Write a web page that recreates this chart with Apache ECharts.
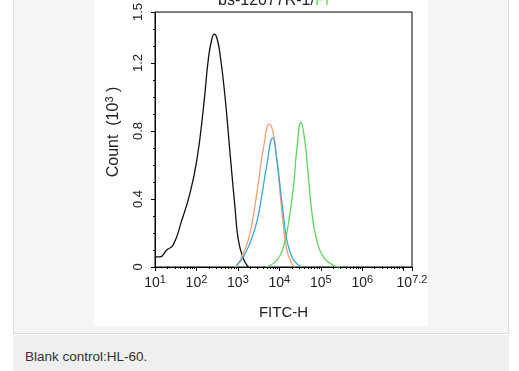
<!DOCTYPE html>
<html>
<head>
<meta charset="utf-8">
<script src="https://cdn.jsdelivr.net/npm/echarts@6/dist/echarts.min.js"></script>
<style>
html,body{margin:0;padding:0;background:#fff;width:519px;height:371px;overflow:hidden;font-family:"Liberation Sans",Arial,sans-serif;}
#panel{position:absolute;left:13px;top:-1px;width:494px;height:333px;background:#f4f5f5;border:1px solid #dcdddd;}
#img{position:absolute;left:94px;top:0;width:334px;height:326px;background:#fff;}
#cap{position:absolute;left:13px;top:335px;width:496px;height:36px;background:#eeefef;}
#capText{position:absolute;left:25px;top:349px;font-size:13.5px;color:#333;line-height:16px;}
#chart{position:absolute;left:0;top:0;width:519px;height:371px;}
</style>
</head>
<body>
<div id="panel"></div>
<div id="img"></div>
<div id="cap"></div>
<div id="capText">Blank control:HL-60.</div>
<div id="chart"></div>
<script>
// x values are log10(FITC-H), y values are Count (10^3)
var blackX = [1.00,1.12,1.28,1.44,1.64,1.84,2.01,2.17,2.29,2.37,2.43,2.49,2.57,2.69,2.81,2.93,3.01,3.13,3.25];
var blackY = [0.06,0.06,0.10,0.13,0.27,0.43,0.63,0.94,1.23,1.34,1.37,1.35,1.25,1.00,0.67,0.35,0.16,0.05,0.00];
var orangeX = [2.93,3.01,3.13,3.25,3.37,3.49,3.61,3.76,3.85,3.94,4.02,4.10,4.18,4.30,4.38];
var orangeY = [0.00,0.02,0.08,0.16,0.30,0.49,0.69,0.84,0.79,0.63,0.43,0.24,0.10,0.02,0.00];
var blueX = [2.97,3.13,3.29,3.45,3.57,3.69,3.84,3.94,4.02,4.10,4.18,4.30,4.42,4.54];
var blueY = [0.01,0.06,0.14,0.26,0.41,0.59,0.76,0.63,0.47,0.30,0.16,0.06,0.02,0.00];
var greenX = [3.69,3.94,4.10,4.22,4.34,4.42,4.52,4.62,4.70,4.78,4.90,5.06,5.30,5.46];
var greenY = [0.00,0.04,0.12,0.26,0.47,0.69,0.85,0.73,0.53,0.33,0.16,0.06,0.01,0.00];

var xLabelVals = [1,2,3,4,5,6,7.2];
var xTickExp = ['1','2','3','4','5','6','7.2'];
var xMajorTicks = [1,2,3,4,5,6,7,7.2];
var yLabelVals = [0,0.4,0.8,1.2,1.5];
var yTickLabels = ['0','0.4','0.8','1.2','1.5'];
var yMinorTicks = [0.1,0.2,0.3,0.5,0.6,0.7,0.9,1.0,1.1,1.3,1.4];

function pairs(xs, ys){ return xs.map(function(x,i){ return [x, ys[i]]; }); }
var xMinor = [];
for (var n = 1; n <= 7; n++) { for (var k = 2; k <= 9; k++) { var v = n + Math.log10(k); if (v < 7.2) xMinor.push(v); } }

var font = '"Liberation Sans", Arial, sans-serif';
var chart = echarts.init(document.getElementById('chart'), null, {renderer:'canvas'});
var lineBase = {type:'line', showSymbol:false, smooth:0.5, silent:true};
chart.setOption({
  animation:false,
  grid:{left:155, top:11, width:257, height:256, show:true, borderColor:'#000', borderWidth:1, backgroundColor:'transparent'},
  graphic:[
    {type:'text', x:218, y:0.5, style:{text:'{k|bs-12077R-1/}{g|FI}', verticalAlign:'middle', font:'16px '+font,
      rich:{k:{fill:'#222', font:'16px '+font}, g:{fill:'#66dd55', font:'16px '+font}}}},
    {type:'text', x:113, y:132, rotation:Math.PI/2, style:{text:'{a|Count  (10}{s|3}{a| )}', align:'center', verticalAlign:'middle',
      rich:{a:{fill:'#222', font:'16px '+font, verticalAlign:'bottom'}, s:{fill:'#222', font:'11px '+font, verticalAlign:'top', padding:[0,0,7,0]}}}}
  ],
  xAxis:[{
    type:'value', min:1, max:7.2, gridIndex:0,
    axisLine:{show:true, lineStyle:{color:'#000', width:1}},
    axisTick:{show:true, customValues:xMajorTicks, length:4, lineStyle:{color:'#000'}},
    axisLabel:{customValues:xLabelVals, margin:7, color:'#222',
      formatter:function(v){ return '{b|10}{s|'+xTickExp[xLabelVals.indexOf(v)]+'}'; },
      rich:{b:{fontSize:14, fontFamily:font, color:'#222', verticalAlign:'bottom'}, s:{fontSize:11, fontFamily:font, color:'#222', verticalAlign:'top', padding:[0,0,5,0]}}},
    splitLine:{show:false},
    name:'FITC-H', nameLocation:'middle', nameGap:38, nameTextStyle:{fontSize:15, fontFamily:font, color:'#222'}
  },{
    type:'value', min:1, max:7.2, gridIndex:0, position:'bottom',
    axisLine:{show:false}, axisLabel:{show:false}, splitLine:{show:false},
    axisTick:{show:true, customValues:xMinor, length:2, lineStyle:{color:'#000'}}
  }],
  yAxis:[{
    type:'value', min:0, max:1.5,
    axisLine:{show:true, lineStyle:{color:'#000', width:1}},
    axisTick:{show:true, customValues:yLabelVals, length:4, lineStyle:{color:'#000'}},
    axisLabel:{customValues:yLabelVals, rotate:90, margin:10, fontSize:13, fontFamily:font, color:'#222',
      formatter:function(v){ return yTickLabels[yLabelVals.indexOf(v)]; }},
    splitLine:{show:false}
  },{
    type:'value', min:0, max:1.5, position:'left',
    axisLine:{show:false}, axisLabel:{show:false}, splitLine:{show:false},
    axisTick:{show:true, customValues:yMinorTicks, length:2, lineStyle:{color:'#000'}}
  }],
  series:[
    Object.assign({}, lineBase, {name:'blank', data:pairs(blackX,blackY), lineStyle:{color:'#111', width:1.3}}),
    Object.assign({}, lineBase, {name:'orange', data:pairs(orangeX,orangeY), lineStyle:{color:'#f5a06e', width:1.3}}),
    Object.assign({}, lineBase, {name:'blue', data:pairs(blueX,blueY), lineStyle:{color:'#3aa6dc', width:1.3}}),
    Object.assign({}, lineBase, {name:'green', data:pairs(greenX,greenY), lineStyle:{color:'#5cd65c', width:1.3}})
  ]
});
</script>
</body>
</html>
